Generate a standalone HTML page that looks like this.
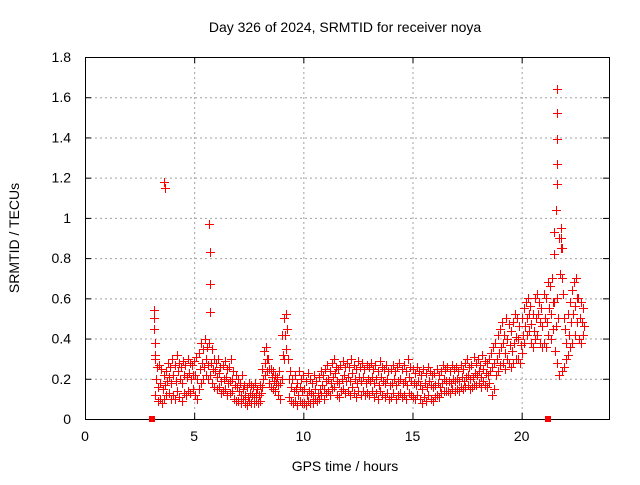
<!DOCTYPE html>
<html><head><meta charset="utf-8"><style>
body{margin:0;background:#fff}
svg text{font-family:"Liberation Sans",sans-serif;font-size:14px;fill:#000}
</style></head><body>
<svg id="c" width="640" height="480"></svg>
<script>
const up=[0.30,0.26,0.27,0.25,0.22,0.24,0.28,0.26,
0.30,0.27,0.32,0.28,0.26,0.29,0.27,0.30,0.28,0.27,
0.29,0.31,0.33,0.38,0.35,0.40,0.36,0.38,0.35,0.30,
0.28,0.30,0.26,0.27,0.29,0.25,0.26,0.30,0.24,0.22,
0.20,0.18,0.22,0.17,0.16,0.18,0.17,0.16,0.18,0.15,
0.17,0.25,0.34,0.36,0.30,0.25,0.24,0.22,0.21,0.24,
0.42,0.50,0.52,0.30,0.24,0.20,0.22,0.18,0.24,0.20,
0.22,0.19,0.23,0.20,0.18,0.22,0.19,0.21,0.24,0.22,
0.25,0.27,0.24,0.28,0.30,0.26,0.25,0.27,0.29,0.26,
0.28,0.26,0.30,0.27,0.25,0.29,0.26,0.28,0.25,0.27,
0.26,0.28,0.25,0.27,0.24,0.29,0.26,0.25,0.27,0.24,
0.25,0.27,0.24,0.26,0.28,0.25,0.27,0.24,0.30,0.26,
0.25,0.23,0.26,0.24,0.22,0.25,0.23,0.26,0.24,0.22,
0.23,0.25,0.22,0.24,0.27,0.25,0.26,0.24,0.27,0.25,
0.26,0.24,0.27,0.25,0.28,0.30,0.26,0.27,0.31,0.28,
0.30,0.27,0.32,0.29,0.28,0.30,0.33,0.36,0.38,0.42,
0.45,0.48,0.42,0.50,0.47,0.44,0.48,0.52,0.50,0.46,
0.50,0.55,0.58,0.60,0.56,0.52,0.60,0.62,0.58,0.55,
0.62,0.60,0.68,0.66,0.70,0.58,0.60,0.90,0.85,0.62,
0.45,0.52,0.58,0.64,0.68,0.70,0.60,0.58,0.55];
const mid=[0.20,0.16,0.18,0.15,0.17,0.19,0.21,0.18,
0.22,0.19,0.24,0.20,0.18,0.22,0.21,0.23,0.20,0.22,
0.22,0.20,0.25,0.28,0.26,0.30,0.27,0.28,0.25,0.24,
0.21,0.23,0.19,0.20,0.21,0.18,0.19,0.20,0.17,0.16,
0.14,0.12,0.15,0.12,0.11,0.13,0.12,0.11,0.13,0.12,
0.13,0.20,0.28,0.30,0.25,0.21,0.19,0.18,0.17,0.18,
0.32,0.42,0.45,0.20,0.16,0.14,0.15,0.12,0.16,0.14,
0.15,0.12,0.14,0.13,0.12,0.15,0.13,0.15,0.17,0.15,
0.19,0.20,0.18,0.21,0.23,0.19,0.18,0.20,0.22,0.19,
0.21,0.19,0.23,0.20,0.18,0.21,0.19,0.21,0.18,0.20,
0.19,0.21,0.18,0.20,0.17,0.21,0.19,0.18,0.20,0.17,
0.18,0.20,0.17,0.19,0.20,0.18,0.19,0.17,0.21,0.19,
0.18,0.17,0.19,0.17,0.15,0.18,0.16,0.19,0.17,0.16,
0.17,0.18,0.16,0.18,0.20,0.19,0.19,0.18,0.20,0.19,
0.20,0.19,0.21,0.19,0.21,0.22,0.20,0.21,0.23,0.22,
0.24,0.21,0.25,0.23,0.22,0.24,0.26,0.28,0.30,0.33,
0.36,0.38,0.33,0.40,0.37,0.34,0.38,0.41,0.40,0.37,
0.42,0.46,0.50,0.52,0.47,0.44,0.50,0.52,0.48,0.46,
0.50,0.48,0.55,0.52,0.58,0.46,0.50,0.72,0.70,0.50,
0.38,0.42,0.48,0.52,0.56,0.60,0.50,0.48,0.46];
const lo=[0.12,0.09,0.10,0.08,0.10,0.12,0.13,0.10,
0.12,0.10,0.14,0.11,0.09,0.13,0.12,0.14,0.13,0.15,
0.12,0.10,0.15,0.18,0.20,0.22,0.20,0.22,0.18,0.16,
0.15,0.16,0.13,0.14,0.15,0.12,0.13,0.14,0.10,0.09,
0.09,0.08,0.10,0.08,0.07,0.09,0.08,0.08,0.09,0.08,
0.09,0.16,0.22,0.24,0.18,0.16,0.15,0.14,0.12,0.10,
0.20,0.30,0.35,0.11,0.09,0.08,0.09,0.07,0.09,0.08,
0.08,0.07,0.09,0.08,0.08,0.10,0.09,0.10,0.12,0.10,
0.13,0.14,0.12,0.15,0.16,0.12,0.11,0.14,0.15,0.13,
0.14,0.12,0.16,0.13,0.11,0.14,0.12,0.14,0.12,0.13,
0.12,0.14,0.11,0.13,0.10,0.14,0.12,0.11,0.13,0.10,
0.11,0.13,0.10,0.12,0.13,0.11,0.12,0.10,0.13,0.12,
0.11,0.10,0.12,0.10,0.08,0.11,0.09,0.12,0.10,0.09,
0.11,0.12,0.11,0.13,0.14,0.14,0.14,0.13,0.15,0.14,
0.15,0.14,0.16,0.15,0.16,0.17,0.15,0.16,0.17,0.17,
0.18,0.16,0.19,0.17,0.16,0.18,0.12,0.15,0.22,0.24,
0.27,0.28,0.25,0.30,0.28,0.26,0.28,0.30,0.30,0.28,
0.33,0.38,0.42,0.44,0.38,0.36,0.40,0.42,0.38,0.36,
0.38,0.36,0.42,0.40,0.45,0.34,0.28,0.22,0.24,0.26,
0.30,0.32,0.36,0.38,0.42,0.48,0.40,0.38,0.42];
const startHour=3.2, stepHour=0.1;
const spikeT=[3.15,3.17,3.18,3.2,3.2,3.6,3.65,5.7,5.72,5.72,5.72,21.6,21.62,21.62,21.62,21.6,21.55,21.5,21.5,21.8,21.8,21.85];
const spikeV=[0.54,0.50,0.45,0.38,0.32,1.18,1.15,0.97,0.83,0.67,0.53,1.64,1.52,1.39,1.27,1.17,1.04,0.93,0.82,0.95,0.90,0.85];
const gapT=[3.05,21.2];
const xTicks=[0,5,10,15,20];
const yTicks=[0,0.2,0.4,0.6,0.8,1,1.2,1.4,1.6,1.8];

const L=85,R=609,T=57,B=419,XMAX=24,YMAX=1.8;
const X=v=>L+v/XMAX*(R-L), Y=v=>B-v/YMAX*(B-T);
const svg=document.getElementById('c'),NS='http://www.w3.org/2000/svg';
function mk(tag,a,p){const e=document.createElementNS(NS,tag);for(const k in a)e.setAttribute(k,a[k]);(p||svg).appendChild(e);return e;}
const grid=mk('g',{stroke:'#a0a0a0','stroke-dasharray':'2,3','stroke-width':1});


xTicks.forEach(t=>{if(t>0)mk('line',{x1:X(t)+.5,x2:X(t)+.5,y1:T,y2:B},grid);});
yTicks.forEach(t=>{if(t>0&&t<YMAX)mk('line',{x1:L,x2:R,y1:Y(t)+.5,y2:Y(t)+.5},grid);});
const ax=mk('g',{stroke:'#000','stroke-width':1,fill:'none'});


mk('rect',{x:L+.5,y:T+.5,width:R-L,height:B-T},ax);
xTicks.forEach(t=>{mk('line',{x1:X(t)+.5,x2:X(t)+.5,y1:B,y2:B-6},ax);mk('line',{x1:X(t)+.5,x2:X(t)+.5,y1:T,y2:T+6},ax);
 const tx=mk('text',{x:X(t),y:B+22,'text-anchor':'middle'});tx.textContent=t;
 
 });
yTicks.forEach(t=>{mk('line',{x1:L,x2:L+6,y1:Y(t)+.5,y2:Y(t)+.5},ax);mk('line',{x1:R,x2:R-6,y1:Y(t)+.5,y2:Y(t)+.5},ax);
 const tx=mk('text',{x:L-14,y:Y(t)+5,'text-anchor':'end'});tx.textContent=t;
 
 });
const pts=mk('g',{fill:'#ff0000'});


function cross(t,v){
 const x=Math.round(X(t)),y=Math.round(Y(v));
 const h=mk('rect',{x:x-4,y:y,width:9,height:1},pts);
 
 
 const w=mk('rect',{x:x,y:y-4,width:1,height:9},pts);
 
 
}
const shifts=[0,0.05,0.025];
[up,mid,lo].forEach((s,k)=>s.forEach((v,i)=>cross(startHour+i*stepHour+shifts[k],v)));
spikeT.forEach((t,i)=>cross(t,spikeV[i]));
gapT.forEach(t=>{const r=mk('rect',{x:Math.round(X(t))-3,y:B-3,width:6,height:6,fill:'#ff0000'});
 
 });
function lab(x,y,s,name,rot){const e=mk('text',{x:x,y:y,'text-anchor':'middle'});if(rot)e.setAttribute('transform',`rotate(-90 ${x} ${y})`);e.textContent=s;
 
 }
lab(345,32,'Day 326 of 2024, SRMTID for receiver noya','chart-title');
lab(345,471,'GPS time / hours','x-axis-title');
lab(19,238,'SRMTID / TECUs','y-axis-title',true);
</script>
</body></html>
